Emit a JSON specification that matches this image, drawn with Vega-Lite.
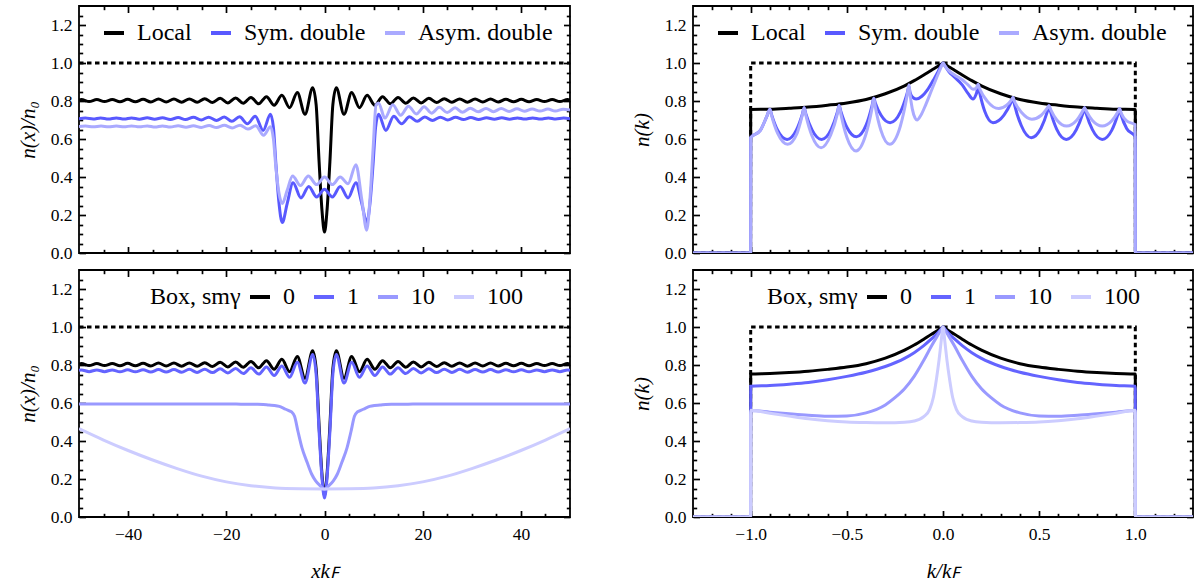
{
"$schema":"https://vega.github.io/schema/vega-lite/v6.json",
"padding":{"left":16,"top":4,"right":0,"bottom":0},
"config":{
 "view":{"stroke":"black","strokeWidth":1.8},
 "font":"Liberation Serif",
 "axis":{"tickColor":"black","tickWidth":1.7,"labelFont":"Liberation Serif","labelFontSize":17.5,"labelColor":"black","titleFont":"Liberation Serif","titleFontSize":21,"titleFontWeight":"normal","titleColor":"black","grid":false,"labelOverlap":false,"labelFlush":false},
 "legend":{"orient":"none","direction":"horizontal","symbolType":"stroke","symbolStrokeWidth":4,"symbolSize":400,"labelFont":"Liberation Serif","labelFontSize":24,"labelColor":"black","labelOffset":11,"columnPadding":11,"titleFont":"Liberation Serif","titleFontSize":24,"titleFontWeight":"normal","titleColor":"black","titleOrient":"left","titlePadding":7,"legendY":15,"symbolOpacity":1}
},
"datasets":{
"dashL":[{"x":-50,"y":1},{"x":50,"y":1}],
"dashR":[{"x":-1.3,"y":0},{"x":-1.0005,"y":0},{"x":-1,"y":1},{"x":1,"y":1},{"x":1.0005,"y":0},{"x":1.3,"y":0}],
"tl":[
{"s":"Local","x":-50,"y":0.805},{"s":"Local","x":-49.51,"y":0.808},{"s":"Local","x":-47.94,"y":0.797},{"s":"Local","x":-46.37,"y":0.808},{"s":"Local","x":-44.8,"y":0.797},{"s":"Local","x":-43.23,"y":0.808},{"s":"Local","x":-41.66,"y":0.796},{"s":"Local","x":-40.09,"y":0.809},{"s":"Local","x":-38.52,"y":0.796},{"s":"Local","x":-36.95,"y":0.809},{"s":"Local","x":-35.38,"y":0.795},{"s":"Local","x":-33.81,"y":0.81},{"s":"Local","x":-32.24,"y":0.795},{"s":"Local","x":-30.67,"y":0.81},{"s":"Local","x":-29.1,"y":0.794},{"s":"Local","x":-27.53,"y":0.811},{"s":"Local","x":-25.96,"y":0.793},{"s":"Local","x":-24.39,"y":0.812},{"s":"Local","x":-22.82,"y":0.792},{"s":"Local","x":-21.25,"y":0.814},{"s":"Local","x":-19.68,"y":0.79},{"s":"Local","x":-18.11,"y":0.816},{"s":"Local","x":-16.54,"y":0.788},{"s":"Local","x":-14.97,"y":0.819},{"s":"Local","x":-13.4,"y":0.785},{"s":"Local","x":-11.82,"y":0.823},{"s":"Local","x":-10.25,"y":0.778},{"s":"Local","x":-8.68,"y":0.83},{"s":"Local","x":-7.11,"y":0.765},{"s":"Local","x":-5.54,"y":0.845},{"s":"Local","x":-3.97,"y":0.73},{"s":"Local","x":-2.4,"y":0.87},{"s":"Local","x":-1.7,"y":0.78},{"s":"Local","x":-1.1,"y":0.48},{"s":"Local","x":-0.5,"y":0.22},{"s":"Local","x":0,"y":0.11},
{"s":"Local","x":0.5,"y":0.22},{"s":"Local","x":1.1,"y":0.48},{"s":"Local","x":1.7,"y":0.78},{"s":"Local","x":2.4,"y":0.87},{"s":"Local","x":3.97,"y":0.73},{"s":"Local","x":5.54,"y":0.845},{"s":"Local","x":7.11,"y":0.765},{"s":"Local","x":8.68,"y":0.83},{"s":"Local","x":10.25,"y":0.778},{"s":"Local","x":11.82,"y":0.823},{"s":"Local","x":13.4,"y":0.785},{"s":"Local","x":14.97,"y":0.819},{"s":"Local","x":16.54,"y":0.788},{"s":"Local","x":18.11,"y":0.816},{"s":"Local","x":19.68,"y":0.79},{"s":"Local","x":21.25,"y":0.814},{"s":"Local","x":22.82,"y":0.792},{"s":"Local","x":24.39,"y":0.812},{"s":"Local","x":25.96,"y":0.793},{"s":"Local","x":27.53,"y":0.811},{"s":"Local","x":29.1,"y":0.794},{"s":"Local","x":30.67,"y":0.81},{"s":"Local","x":32.24,"y":0.795},{"s":"Local","x":33.81,"y":0.81},{"s":"Local","x":35.38,"y":0.795},{"s":"Local","x":36.95,"y":0.809},{"s":"Local","x":38.52,"y":0.796},{"s":"Local","x":40.09,"y":0.809},{"s":"Local","x":41.66,"y":0.796},{"s":"Local","x":43.23,"y":0.808},{"s":"Local","x":44.8,"y":0.797},{"s":"Local","x":46.37,"y":0.808},{"s":"Local","x":47.94,"y":0.797},{"s":"Local","x":49.51,"y":0.808},{"s":"Local","x":50,"y":0.805},
{"s":"Sym. double","x":-50,"y":0.707},{"s":"Sym. double","x":-48.7,"y":0.71},{"s":"Sym. double","x":-47.1,"y":0.705},{"s":"Sym. double","x":-45.6,"y":0.711},{"s":"Sym. double","x":-44,"y":0.705},{"s":"Sym. double","x":-42.4,"y":0.711},{"s":"Sym. double","x":-40.8,"y":0.705},{"s":"Sym. double","x":-39.3,"y":0.711},{"s":"Sym. double","x":-37.7,"y":0.704},{"s":"Sym. double","x":-36.1,"y":0.712},{"s":"Sym. double","x":-34.6,"y":0.704},{"s":"Sym. double","x":-33,"y":0.712},{"s":"Sym. double","x":-31.4,"y":0.703},{"s":"Sym. double","x":-29.8,"y":0.713},{"s":"Sym. double","x":-28.3,"y":0.702},{"s":"Sym. double","x":-26.7,"y":0.714},{"s":"Sym. double","x":-25.1,"y":0.7},{"s":"Sym. double","x":-23.6,"y":0.715},{"s":"Sym. double","x":-22,"y":0.698},{"s":"Sym. double","x":-20.4,"y":0.716},{"s":"Sym. double","x":-18.9,"y":0.693},{"s":"Sym. double","x":-17.3,"y":0.717},{"s":"Sym. double","x":-15.7,"y":0.68},{"s":"Sym. double","x":-14.1,"y":0.72},{"s":"Sym. double","x":-12.5,"y":0.645},{"s":"Sym. double","x":-11,"y":0.73},{"s":"Sym. double","x":-10.4,"y":0.66},{"s":"Sym. double","x":-9.9,"y":0.47},{"s":"Sym. double","x":-9.3,"y":0.27},{"s":"Sym. double","x":-8.6,"y":0.16},{"s":"Sym. double","x":-7.6,"y":0.26},{"s":"Sym. double","x":-6.4,"y":0.37},{"s":"Sym. double","x":-4.8,"y":0.29},{"s":"Sym. double","x":-3.2,"y":0.35},{"s":"Sym. double","x":-1.6,"y":0.295},{"s":"Sym. double","x":0,"y":0.335},
{"s":"Sym. double","x":1.6,"y":0.295},{"s":"Sym. double","x":3.2,"y":0.35},{"s":"Sym. double","x":4.8,"y":0.29},{"s":"Sym. double","x":6.4,"y":0.37},{"s":"Sym. double","x":7.6,"y":0.26},{"s":"Sym. double","x":8.6,"y":0.16},{"s":"Sym. double","x":9.3,"y":0.27},{"s":"Sym. double","x":9.9,"y":0.47},{"s":"Sym. double","x":10.4,"y":0.66},{"s":"Sym. double","x":11,"y":0.73},{"s":"Sym. double","x":12.5,"y":0.645},{"s":"Sym. double","x":14.1,"y":0.72},{"s":"Sym. double","x":15.7,"y":0.68},{"s":"Sym. double","x":17.3,"y":0.717},{"s":"Sym. double","x":18.9,"y":0.693},{"s":"Sym. double","x":20.4,"y":0.716},{"s":"Sym. double","x":22,"y":0.698},{"s":"Sym. double","x":23.6,"y":0.715},{"s":"Sym. double","x":25.1,"y":0.7},{"s":"Sym. double","x":26.7,"y":0.714},{"s":"Sym. double","x":28.3,"y":0.702},{"s":"Sym. double","x":29.8,"y":0.713},{"s":"Sym. double","x":31.4,"y":0.703},{"s":"Sym. double","x":33,"y":0.712},{"s":"Sym. double","x":34.6,"y":0.704},{"s":"Sym. double","x":36.1,"y":0.712},{"s":"Sym. double","x":37.7,"y":0.704},{"s":"Sym. double","x":39.3,"y":0.711},{"s":"Sym. double","x":40.8,"y":0.705},{"s":"Sym. double","x":42.4,"y":0.711},{"s":"Sym. double","x":44,"y":0.705},{"s":"Sym. double","x":45.6,"y":0.711},{"s":"Sym. double","x":47.1,"y":0.705},{"s":"Sym. double","x":48.7,"y":0.71},{"s":"Sym. double","x":50,"y":0.707},
{"s":"Asym. double","x":-50,"y":0.666},{"s":"Asym. double","x":-48.7,"y":0.668},{"s":"Asym. double","x":-47.1,"y":0.664},{"s":"Asym. double","x":-45.5,"y":0.668},{"s":"Asym. double","x":-44,"y":0.664},{"s":"Asym. double","x":-42.4,"y":0.668},{"s":"Asym. double","x":-40.8,"y":0.664},{"s":"Asym. double","x":-39.3,"y":0.669},{"s":"Asym. double","x":-37.7,"y":0.664},{"s":"Asym. double","x":-36.1,"y":0.669},{"s":"Asym. double","x":-34.5,"y":0.663},{"s":"Asym. double","x":-33,"y":0.669},{"s":"Asym. double","x":-31.4,"y":0.663},{"s":"Asym. double","x":-29.8,"y":0.67},{"s":"Asym. double","x":-28.2,"y":0.662},{"s":"Asym. double","x":-26.7,"y":0.67},{"s":"Asym. double","x":-25.1,"y":0.661},{"s":"Asym. double","x":-23.5,"y":0.671},{"s":"Asym. double","x":-22,"y":0.66},{"s":"Asym. double","x":-20.4,"y":0.672},{"s":"Asym. double","x":-18.8,"y":0.658},{"s":"Asym. double","x":-17.2,"y":0.673},{"s":"Asym. double","x":-15.6,"y":0.652},{"s":"Asym. double","x":-14,"y":0.67},{"s":"Asym. double","x":-12.4,"y":0.62},{"s":"Asym. double","x":-11,"y":0.665},{"s":"Asym. double","x":-10.4,"y":0.6},{"s":"Asym. double","x":-9.9,"y":0.45},{"s":"Asym. double","x":-9.3,"y":0.32},{"s":"Asym. double","x":-8.6,"y":0.26},{"s":"Asym. double","x":-7.6,"y":0.33},{"s":"Asym. double","x":-6.5,"y":0.405},{"s":"Asym. double","x":-4.9,"y":0.355},{"s":"Asym. double","x":-3.3,"y":0.405},{"s":"Asym. double","x":-1.6,"y":0.36},{"s":"Asym. double","x":0,"y":0.4},{"s":"Asym. double","x":1.6,"y":0.36},{"s":"Asym. double","x":3.2,"y":0.4},{"s":"Asym. double","x":4.8,"y":0.365},{"s":"Asym. double","x":6.4,"y":0.465},{"s":"Asym. double","x":7.6,"y":0.28},{"s":"Asym. double","x":8.6,"y":0.12},{"s":"Asym. double","x":9.3,"y":0.3},{"s":"Asym. double","x":9.9,"y":0.55},{"s":"Asym. double","x":10.5,"y":0.78},{"s":"Asym. double","x":11,"y":0.79},{"s":"Asym. double","x":12.3,"y":0.71},{"s":"Asym. double","x":13.9,"y":0.78},{"s":"Asym. double","x":15.5,"y":0.725},{"s":"Asym. double","x":17.1,"y":0.773},{"s":"Asym. double","x":18.7,"y":0.732},{"s":"Asym. double","x":20.3,"y":0.77},{"s":"Asym. double","x":21.8,"y":0.736},{"s":"Asym. double","x":23.4,"y":0.767},{"s":"Asym. double","x":25,"y":0.739},{"s":"Asym. double","x":26.6,"y":0.764},{"s":"Asym. double","x":28.1,"y":0.741},{"s":"Asym. double","x":29.7,"y":0.762},{"s":"Asym. double","x":31.3,"y":0.743},{"s":"Asym. double","x":32.9,"y":0.761},{"s":"Asym. double","x":34.4,"y":0.744},{"s":"Asym. double","x":36,"y":0.76},{"s":"Asym. double","x":37.6,"y":0.745},{"s":"Asym. double","x":39.2,"y":0.759},{"s":"Asym. double","x":40.7,"y":0.746},{"s":"Asym. double","x":42.3,"y":0.758},{"s":"Asym. double","x":43.9,"y":0.747},{"s":"Asym. double","x":45.5,"y":0.758},{"s":"Asym. double","x":47,"y":0.747},{"s":"Asym. double","x":48.6,"y":0.757},{"s":"Asym. double","x":50,"y":0.752}
],
"bl":[
{"s":"0","x":-50,"y":0.805},{"s":"0","x":-49.51,"y":0.808},{"s":"0","x":-47.94,"y":0.797},{"s":"0","x":-46.37,"y":0.808},{"s":"0","x":-44.8,"y":0.797},{"s":"0","x":-43.23,"y":0.808},{"s":"0","x":-41.66,"y":0.796},{"s":"0","x":-40.09,"y":0.809},{"s":"0","x":-38.52,"y":0.796},{"s":"0","x":-36.95,"y":0.809},{"s":"0","x":-35.38,"y":0.795},{"s":"0","x":-33.81,"y":0.81},{"s":"0","x":-32.24,"y":0.795},{"s":"0","x":-30.67,"y":0.81},{"s":"0","x":-29.1,"y":0.794},{"s":"0","x":-27.53,"y":0.811},{"s":"0","x":-25.96,"y":0.793},{"s":"0","x":-24.39,"y":0.812},{"s":"0","x":-22.82,"y":0.792},{"s":"0","x":-21.25,"y":0.814},{"s":"0","x":-19.68,"y":0.79},{"s":"0","x":-18.11,"y":0.816},{"s":"0","x":-16.54,"y":0.788},{"s":"0","x":-14.97,"y":0.819},{"s":"0","x":-13.4,"y":0.785},{"s":"0","x":-11.82,"y":0.823},{"s":"0","x":-10.25,"y":0.778},{"s":"0","x":-8.68,"y":0.83},{"s":"0","x":-7.11,"y":0.765},{"s":"0","x":-5.54,"y":0.845},{"s":"0","x":-3.97,"y":0.73},{"s":"0","x":-2.4,"y":0.875},{"s":"0","x":-1.7,"y":0.78},{"s":"0","x":-1.1,"y":0.48},{"s":"0","x":-0.5,"y":0.22},{"s":"0","x":0,"y":0.115},
{"s":"0","x":0.5,"y":0.22},{"s":"0","x":1.1,"y":0.48},{"s":"0","x":1.7,"y":0.78},{"s":"0","x":2.4,"y":0.875},{"s":"0","x":3.97,"y":0.73},{"s":"0","x":5.54,"y":0.845},{"s":"0","x":7.11,"y":0.765},{"s":"0","x":8.68,"y":0.83},{"s":"0","x":10.25,"y":0.778},{"s":"0","x":11.82,"y":0.823},{"s":"0","x":13.4,"y":0.785},{"s":"0","x":14.97,"y":0.819},{"s":"0","x":16.54,"y":0.788},{"s":"0","x":18.11,"y":0.816},{"s":"0","x":19.68,"y":0.79},{"s":"0","x":21.25,"y":0.814},{"s":"0","x":22.82,"y":0.792},{"s":"0","x":24.39,"y":0.812},{"s":"0","x":25.96,"y":0.793},{"s":"0","x":27.53,"y":0.811},{"s":"0","x":29.1,"y":0.794},{"s":"0","x":30.67,"y":0.81},{"s":"0","x":32.24,"y":0.795},{"s":"0","x":33.81,"y":0.81},{"s":"0","x":35.38,"y":0.795},{"s":"0","x":36.95,"y":0.809},{"s":"0","x":38.52,"y":0.796},{"s":"0","x":40.09,"y":0.809},{"s":"0","x":41.66,"y":0.796},{"s":"0","x":43.23,"y":0.808},{"s":"0","x":44.8,"y":0.797},{"s":"0","x":46.37,"y":0.808},{"s":"0","x":47.94,"y":0.797},{"s":"0","x":49.51,"y":0.808},{"s":"0","x":50,"y":0.805},
{"s":"1","x":-50,"y":0.772},{"s":"1","x":-49.51,"y":0.774},{"s":"1","x":-47.94,"y":0.765},{"s":"1","x":-46.37,"y":0.774},{"s":"1","x":-44.8,"y":0.765},{"s":"1","x":-43.23,"y":0.774},{"s":"1","x":-41.66,"y":0.764},{"s":"1","x":-40.09,"y":0.775},{"s":"1","x":-38.52,"y":0.764},{"s":"1","x":-36.95,"y":0.775},{"s":"1","x":-35.38,"y":0.763},{"s":"1","x":-33.81,"y":0.776},{"s":"1","x":-32.24,"y":0.763},{"s":"1","x":-30.67,"y":0.776},{"s":"1","x":-29.1,"y":0.762},{"s":"1","x":-27.53,"y":0.777},{"s":"1","x":-25.96,"y":0.761},{"s":"1","x":-24.39,"y":0.778},{"s":"1","x":-22.82,"y":0.76},{"s":"1","x":-21.25,"y":0.78},{"s":"1","x":-19.68,"y":0.758},{"s":"1","x":-18.11,"y":0.782},{"s":"1","x":-16.54,"y":0.755},{"s":"1","x":-14.97,"y":0.785},{"s":"1","x":-13.4,"y":0.752},{"s":"1","x":-11.82,"y":0.79},{"s":"1","x":-10.25,"y":0.745},{"s":"1","x":-8.68,"y":0.795},{"s":"1","x":-7.11,"y":0.735},{"s":"1","x":-5.54,"y":0.815},{"s":"1","x":-3.97,"y":0.705},{"s":"1","x":-2.4,"y":0.855},{"s":"1","x":-1.7,"y":0.75},{"s":"1","x":-1.1,"y":0.45},{"s":"1","x":-0.5,"y":0.2},{"s":"1","x":0,"y":0.1},
{"s":"1","x":0.5,"y":0.2},{"s":"1","x":1.1,"y":0.45},{"s":"1","x":1.7,"y":0.75},{"s":"1","x":2.4,"y":0.855},{"s":"1","x":3.97,"y":0.705},{"s":"1","x":5.54,"y":0.815},{"s":"1","x":7.11,"y":0.735},{"s":"1","x":8.68,"y":0.795},{"s":"1","x":10.25,"y":0.745},{"s":"1","x":11.82,"y":0.79},{"s":"1","x":13.4,"y":0.752},{"s":"1","x":14.97,"y":0.785},{"s":"1","x":16.54,"y":0.755},{"s":"1","x":18.11,"y":0.782},{"s":"1","x":19.68,"y":0.758},{"s":"1","x":21.25,"y":0.78},{"s":"1","x":22.82,"y":0.76},{"s":"1","x":24.39,"y":0.778},{"s":"1","x":25.96,"y":0.761},{"s":"1","x":27.53,"y":0.777},{"s":"1","x":29.1,"y":0.762},{"s":"1","x":30.67,"y":0.776},{"s":"1","x":32.24,"y":0.763},{"s":"1","x":33.81,"y":0.776},{"s":"1","x":35.38,"y":0.763},{"s":"1","x":36.95,"y":0.775},{"s":"1","x":38.52,"y":0.764},{"s":"1","x":40.09,"y":0.775},{"s":"1","x":41.66,"y":0.764},{"s":"1","x":43.23,"y":0.774},{"s":"1","x":44.8,"y":0.765},{"s":"1","x":46.37,"y":0.774},{"s":"1","x":47.94,"y":0.765},{"s":"1","x":49.51,"y":0.774},{"s":"1","x":50,"y":0.772},
{"s":"10","x":-50,"y":0.595},{"s":"10","x":-40,"y":0.595},{"s":"10","x":-30,"y":0.595},{"s":"10","x":-20,"y":0.595},{"s":"10","x":-17,"y":0.594},{"s":"10","x":-14,"y":0.593},{"s":"10","x":-12.5,"y":0.592},{"s":"10","x":-11.3,"y":0.589},{"s":"10","x":-10.2,"y":0.587},{"s":"10","x":-9.2,"y":0.582},{"s":"10","x":-8.3,"y":0.572},{"s":"10","x":-7.5,"y":0.562},{"s":"10","x":-6.7,"y":0.553},{"s":"10","x":-6.1,"y":0.53},{"s":"10","x":-5.4,"y":0.45},{"s":"10","x":-4.6,"y":0.365},{"s":"10","x":-3.5,"y":0.285},{"s":"10","x":-2.6,"y":0.225},{"s":"10","x":-1.8,"y":0.19},{"s":"10","x":-0.9,"y":0.165},{"s":"10","x":0,"y":0.145},{"s":"10","x":0.9,"y":0.165},{"s":"10","x":1.8,"y":0.19},{"s":"10","x":2.6,"y":0.225},{"s":"10","x":3.5,"y":0.285},{"s":"10","x":4.6,"y":0.365},{"s":"10","x":5.4,"y":0.45},{"s":"10","x":6.1,"y":0.53},{"s":"10","x":6.7,"y":0.553},{"s":"10","x":7.5,"y":0.562},{"s":"10","x":8.3,"y":0.572},{"s":"10","x":9.2,"y":0.582},{"s":"10","x":10.2,"y":0.587},{"s":"10","x":11.3,"y":0.589},{"s":"10","x":12.5,"y":0.592},{"s":"10","x":14,"y":0.593},{"s":"10","x":17,"y":0.594},{"s":"10","x":20,"y":0.595},{"s":"10","x":30,"y":0.595},{"s":"10","x":40,"y":0.595},{"s":"10","x":50,"y":0.595},
{"s":"100","x":-50,"y":0.465},{"s":"100","x":-45,"y":0.405},{"s":"100","x":-40,"y":0.35},{"s":"100","x":-35,"y":0.3},{"s":"100","x":-30,"y":0.255},{"s":"100","x":-25,"y":0.215},{"s":"100","x":-20,"y":0.185},{"s":"100","x":-15,"y":0.165},{"s":"100","x":-10,"y":0.153},{"s":"100","x":-5,"y":0.149},{"s":"100","x":0,"y":0.148},{"s":"100","x":5,"y":0.149},{"s":"100","x":10,"y":0.153},{"s":"100","x":15,"y":0.165},{"s":"100","x":20,"y":0.185},{"s":"100","x":25,"y":0.215},{"s":"100","x":30,"y":0.255},{"s":"100","x":35,"y":0.3},{"s":"100","x":40,"y":0.35},{"s":"100","x":45,"y":0.405},{"s":"100","x":50,"y":0.465}
],
"tr":[
{"s":"Local","x":-1.3,"y":0},{"s":"Local","x":-1.0005,"y":0},{"s":"Local","x":-1,"y":0.755},{"s":"Local","x":-0.9,"y":0.757},{"s":"Local","x":-0.8,"y":0.762},{"s":"Local","x":-0.7,"y":0.768},{"s":"Local","x":-0.6,"y":0.778},{"s":"Local","x":-0.5,"y":0.79},{"s":"Local","x":-0.4,"y":0.808},{"s":"Local","x":-0.3,"y":0.838},{"s":"Local","x":-0.2,"y":0.88},{"s":"Local","x":-0.15,"y":0.907},{"s":"Local","x":-0.1,"y":0.937},{"s":"Local","x":-0.06,"y":0.962},{"s":"Local","x":-0.03,"y":0.98},{"s":"Local","x":-0.01,"y":0.993},{"s":"Local","x":0,"y":1},{"s":"Local","x":0.01,"y":0.993},{"s":"Local","x":0.03,"y":0.98},{"s":"Local","x":0.06,"y":0.962},{"s":"Local","x":0.1,"y":0.937},{"s":"Local","x":0.15,"y":0.907},{"s":"Local","x":0.2,"y":0.88},{"s":"Local","x":0.3,"y":0.838},{"s":"Local","x":0.4,"y":0.808},{"s":"Local","x":0.5,"y":0.79},{"s":"Local","x":0.6,"y":0.778},{"s":"Local","x":0.7,"y":0.768},{"s":"Local","x":0.8,"y":0.762},{"s":"Local","x":0.9,"y":0.757},{"s":"Local","x":1,"y":0.755},{"s":"Local","x":1.0005,"y":0},{"s":"Local","x":1.3,"y":0},
{"s":"Sym. double","x":-1.3,"y":0},{"s":"Sym. double","x":-1.0005,"y":0},{"s":"Sym. double","x":-1,"y":0.607},{"s":"Sym. double","x":-0.95,"y":0.645},{"s":"Sym. double","x":-0.915,"y":0.722},{"s":"Sym. double","x":-0.9,"y":0.757},{"s":"Sym. double","x":-0.891,"y":0.727},{"s":"Sym. double","x":-0.86,"y":0.646},{"s":"Sym. double","x":-0.811,"y":0.598},{"s":"Sym. double","x":-0.762,"y":0.648},{"s":"Sym. double","x":-0.731,"y":0.732},{"s":"Sym. double","x":-0.722,"y":0.764},{"s":"Sym. double","x":-0.713,"y":0.732},{"s":"Sym. double","x":-0.681,"y":0.648},{"s":"Sym. double","x":-0.631,"y":0.598},{"s":"Sym. double","x":-0.581,"y":0.652},{"s":"Sym. double","x":-0.549,"y":0.742},{"s":"Sym. double","x":-0.54,"y":0.776},{"s":"Sym. double","x":-0.531,"y":0.745},{"s":"Sym. double","x":-0.5,"y":0.662},{"s":"Sym. double","x":-0.45,"y":0.612},{"s":"Sym. double","x":-0.4,"y":0.673},{"s":"Sym. double","x":-0.369,"y":0.776},{"s":"Sym. double","x":-0.36,"y":0.815},{"s":"Sym. double","x":-0.352,"y":0.79},{"s":"Sym. double","x":-0.322,"y":0.725},{"s":"Sym. double","x":-0.275,"y":0.686},{"s":"Sym. double","x":-0.221,"y":0.743},{"s":"Sym. double","x":-0.187,"y":0.839},{"s":"Sym. double","x":-0.177,"y":0.875},{"s":"Sym. double","x":-0.172,"y":0.848},{"s":"Sym. double","x":-0.16,"y":0.822},{"s":"Sym. double","x":-0.14,"y":0.81},{"s":"Sym. double","x":-0.11,"y":0.825},{"s":"Sym. double","x":-0.08,"y":0.86},{"s":"Sym. double","x":-0.05,"y":0.91},{"s":"Sym. double","x":-0.025,"y":0.955},{"s":"Sym. double","x":-0.01,"y":0.985},{"s":"Sym. double","x":0,"y":1},{"s":"Sym. double","x":0.01,"y":0.985},{"s":"Sym. double","x":0.03,"y":0.955},{"s":"Sym. double","x":0.06,"y":0.925},{"s":"Sym. double","x":0.1,"y":0.885},{"s":"Sym. double","x":0.13,"y":0.84},{"s":"Sym. double","x":0.156,"y":0.81},{"s":"Sym. double","x":0.17,"y":0.83},{"s":"Sym. double","x":0.177,"y":0.852},{"s":"Sym. double","x":0.182,"y":0.885},{"s":"Sym. double","x":0.19,"y":0.847},{"s":"Sym. double","x":0.217,"y":0.746},{"s":"Sym. double","x":0.26,"y":0.686},{"s":"Sym. double","x":0.317,"y":0.726},{"s":"Sym. double","x":0.354,"y":0.793},{"s":"Sym. double","x":0.364,"y":0.818},{"s":"Sym. double","x":0.3725,"y":0.778},{"s":"Sym. double","x":0.407,"y":0.671},{"s":"Sym. double","x":0.459,"y":0.607},{"s":"Sym. double","x":0.51,"y":0.658},{"s":"Sym. double","x":0.542,"y":0.743},{"s":"Sym. double","x":0.551,"y":0.775},{"s":"Sym. double","x":0.56,"y":0.741},{"s":"Sym. double","x":0.591,"y":0.652},{"s":"Sym. double","x":0.641,"y":0.598},{"s":"Sym. double","x":0.693,"y":0.649},{"s":"Sym. double","x":0.7265,"y":0.733},{"s":"Sym. double","x":0.736,"y":0.765},{"s":"Sym. double","x":0.745,"y":0.733},{"s":"Sym. double","x":0.777,"y":0.649},{"s":"Sym. double","x":0.828,"y":0.598},{"s":"Sym. double","x":0.878,"y":0.647},{"s":"Sym. double","x":0.909,"y":0.729},{"s":"Sym. double","x":0.918,"y":0.76},{"s":"Sym. double","x":0.927,"y":0.725},{"s":"Sym. double","x":0.955,"y":0.655},{"s":"Sym. double","x":1,"y":0.612},{"s":"Sym. double","x":1.0005,"y":0},{"s":"Sym. double","x":1.3,"y":0},
{"s":"Asym. double","x":-1.3,"y":0},{"s":"Asym. double","x":-1.0005,"y":0},{"s":"Asym. double","x":-1,"y":0.607},{"s":"Asym. double","x":-0.95,"y":0.645},{"s":"Asym. double","x":-0.915,"y":0.722},{"s":"Asym. double","x":-0.9,"y":0.757},{"s":"Asym. double","x":-0.891,"y":0.722},{"s":"Asym. double","x":-0.859,"y":0.628},{"s":"Asym. double","x":-0.808,"y":0.572},{"s":"Asym. double","x":-0.759,"y":0.63},{"s":"Asym. double","x":-0.731,"y":0.728},{"s":"Asym. double","x":-0.722,"y":0.764},{"s":"Asym. double","x":-0.713,"y":0.724},{"s":"Asym. double","x":-0.682,"y":0.618},{"s":"Asym. double","x":-0.634,"y":0.554},{"s":"Asym. double","x":-0.584,"y":0.621},{"s":"Asym. double","x":-0.549,"y":0.734},{"s":"Asym. double","x":-0.54,"y":0.776},{"s":"Asym. double","x":-0.531,"y":0.731},{"s":"Asym. double","x":-0.5,"y":0.609},{"s":"Asym. double","x":-0.452,"y":0.537},{"s":"Asym. double","x":-0.402,"y":0.621},{"s":"Asym. double","x":-0.369,"y":0.762},{"s":"Asym. double","x":-0.36,"y":0.815},{"s":"Asym. double","x":-0.352,"y":0.769},{"s":"Asym. double","x":-0.323,"y":0.646},{"s":"Asym. double","x":-0.277,"y":0.572},{"s":"Asym. double","x":-0.222,"y":0.667},{"s":"Asym. double","x":-0.187,"y":0.826},{"s":"Asym. double","x":-0.177,"y":0.885},{"s":"Asym. double","x":-0.172,"y":0.84},{"s":"Asym. double","x":-0.16,"y":0.76},{"s":"Asym. double","x":-0.145,"y":0.71},{"s":"Asym. double","x":-0.135,"y":0.7},{"s":"Asym. double","x":-0.115,"y":0.725},{"s":"Asym. double","x":-0.09,"y":0.78},{"s":"Asym. double","x":-0.06,"y":0.855},{"s":"Asym. double","x":-0.03,"y":0.93},{"s":"Asym. double","x":-0.01,"y":0.978},{"s":"Asym. double","x":0,"y":1},{"s":"Asym. double","x":0.01,"y":0.985},{"s":"Asym. double","x":0.03,"y":0.96},{"s":"Asym. double","x":0.06,"y":0.937},{"s":"Asym. double","x":0.1,"y":0.912},{"s":"Asym. double","x":0.13,"y":0.885},{"s":"Asym. double","x":0.156,"y":0.862},{"s":"Asym. double","x":0.172,"y":0.866},{"s":"Asym. double","x":0.182,"y":0.888},{"s":"Asym. double","x":0.192,"y":0.861},{"s":"Asym. double","x":0.231,"y":0.798},{"s":"Asym. double","x":0.29,"y":0.76},{"s":"Asym. double","x":0.331,"y":0.778},{"s":"Asym. double","x":0.357,"y":0.807},{"s":"Asym. double","x":0.364,"y":0.818},{"s":"Asym. double","x":0.3725,"y":0.796},{"s":"Asym. double","x":0.41,"y":0.738},{"s":"Asym. double","x":0.462,"y":0.704},{"s":"Asym. double","x":0.511,"y":0.725},{"s":"Asym. double","x":0.542,"y":0.762},{"s":"Asym. double","x":0.551,"y":0.775},{"s":"Asym. double","x":0.56,"y":0.755},{"s":"Asym. double","x":0.592,"y":0.7},{"s":"Asym. double","x":0.643,"y":0.668},{"s":"Asym. double","x":0.694,"y":0.697},{"s":"Asym. double","x":0.7265,"y":0.747},{"s":"Asym. double","x":0.736,"y":0.765},{"s":"Asym. double","x":0.745,"y":0.747},{"s":"Asym. double","x":0.777,"y":0.697},{"s":"Asym. double","x":0.828,"y":0.668},{"s":"Asym. double","x":0.878,"y":0.696},{"s":"Asym. double","x":0.909,"y":0.742},{"s":"Asym. double","x":0.918,"y":0.76},{"s":"Asym. double","x":0.927,"y":0.735},{"s":"Asym. double","x":0.955,"y":0.695},{"s":"Asym. double","x":1,"y":0.675},{"s":"Asym. double","x":1.0005,"y":0},{"s":"Asym. double","x":1.3,"y":0}
],
"br":[
{"s":"0","x":-1.3,"y":0},{"s":"0","x":-1.0005,"y":0},{"s":"0","x":-1,"y":0.752},{"s":"0","x":-0.9,"y":0.755},{"s":"0","x":-0.8,"y":0.76},{"s":"0","x":-0.7,"y":0.767},{"s":"0","x":-0.6,"y":0.777},{"s":"0","x":-0.5,"y":0.789},{"s":"0","x":-0.4,"y":0.807},{"s":"0","x":-0.3,"y":0.836},{"s":"0","x":-0.2,"y":0.878},{"s":"0","x":-0.15,"y":0.905},{"s":"0","x":-0.1,"y":0.936},{"s":"0","x":-0.06,"y":0.962},{"s":"0","x":-0.03,"y":0.98},{"s":"0","x":-0.01,"y":0.993},{"s":"0","x":0,"y":1},{"s":"0","x":0.01,"y":0.993},{"s":"0","x":0.03,"y":0.98},{"s":"0","x":0.06,"y":0.962},{"s":"0","x":0.1,"y":0.936},{"s":"0","x":0.15,"y":0.905},{"s":"0","x":0.2,"y":0.878},{"s":"0","x":0.3,"y":0.836},{"s":"0","x":0.4,"y":0.807},{"s":"0","x":0.5,"y":0.789},{"s":"0","x":0.6,"y":0.777},{"s":"0","x":0.7,"y":0.767},{"s":"0","x":0.8,"y":0.76},{"s":"0","x":0.9,"y":0.755},{"s":"0","x":1,"y":0.752},{"s":"0","x":1.0005,"y":0},{"s":"0","x":1.3,"y":0},
{"s":"1","x":-1.3,"y":0},{"s":"1","x":-1.0005,"y":0},{"s":"1","x":-1,"y":0.688},{"s":"1","x":-0.9,"y":0.692},{"s":"1","x":-0.8,"y":0.699},{"s":"1","x":-0.7,"y":0.708},{"s":"1","x":-0.6,"y":0.722},{"s":"1","x":-0.5,"y":0.74},{"s":"1","x":-0.4,"y":0.762},{"s":"1","x":-0.3,"y":0.792},{"s":"1","x":-0.2,"y":0.835},{"s":"1","x":-0.15,"y":0.865},{"s":"1","x":-0.1,"y":0.902},{"s":"1","x":-0.06,"y":0.937},{"s":"1","x":-0.03,"y":0.966},{"s":"1","x":-0.01,"y":0.988},{"s":"1","x":0,"y":1},{"s":"1","x":0.01,"y":0.988},{"s":"1","x":0.03,"y":0.966},{"s":"1","x":0.06,"y":0.937},{"s":"1","x":0.1,"y":0.902},{"s":"1","x":0.15,"y":0.865},{"s":"1","x":0.2,"y":0.835},{"s":"1","x":0.3,"y":0.792},{"s":"1","x":0.4,"y":0.762},{"s":"1","x":0.5,"y":0.74},{"s":"1","x":0.6,"y":0.722},{"s":"1","x":0.7,"y":0.708},{"s":"1","x":0.8,"y":0.699},{"s":"1","x":0.9,"y":0.692},{"s":"1","x":1,"y":0.688},{"s":"1","x":1.0005,"y":0},{"s":"1","x":1.3,"y":0},
{"s":"10","x":-1.3,"y":0},{"s":"10","x":-1.0005,"y":0},{"s":"10","x":-1,"y":0.56},{"s":"10","x":-0.9,"y":0.552},{"s":"10","x":-0.8,"y":0.543},{"s":"10","x":-0.7,"y":0.535},{"s":"10","x":-0.6,"y":0.53},{"s":"10","x":-0.5,"y":0.532},{"s":"10","x":-0.4,"y":0.548},{"s":"10","x":-0.3,"y":0.59},{"s":"10","x":-0.25,"y":0.628},{"s":"10","x":-0.2,"y":0.675},{"s":"10","x":-0.15,"y":0.74},{"s":"10","x":-0.1,"y":0.825},{"s":"10","x":-0.06,"y":0.9},{"s":"10","x":-0.03,"y":0.952},{"s":"10","x":-0.01,"y":0.985},{"s":"10","x":0,"y":1},{"s":"10","x":0.01,"y":0.985},{"s":"10","x":0.03,"y":0.952},{"s":"10","x":0.06,"y":0.9},{"s":"10","x":0.1,"y":0.825},{"s":"10","x":0.15,"y":0.74},{"s":"10","x":0.2,"y":0.675},{"s":"10","x":0.25,"y":0.628},{"s":"10","x":0.3,"y":0.59},{"s":"10","x":0.4,"y":0.548},{"s":"10","x":0.5,"y":0.532},{"s":"10","x":0.6,"y":0.53},{"s":"10","x":0.7,"y":0.535},{"s":"10","x":0.8,"y":0.543},{"s":"10","x":0.9,"y":0.552},{"s":"10","x":1,"y":0.56},{"s":"10","x":1.0005,"y":0},{"s":"10","x":1.3,"y":0},
{"s":"100","x":-1.3,"y":0},{"s":"100","x":-1.0005,"y":0},{"s":"100","x":-1,"y":0.562},{"s":"100","x":-0.9,"y":0.546},{"s":"100","x":-0.8,"y":0.531},{"s":"100","x":-0.7,"y":0.517},{"s":"100","x":-0.6,"y":0.507},{"s":"100","x":-0.5,"y":0.5},{"s":"100","x":-0.4,"y":0.497},{"s":"100","x":-0.3,"y":0.496},{"s":"100","x":-0.2,"y":0.499},{"s":"100","x":-0.15,"y":0.505},{"s":"100","x":-0.1,"y":0.528},{"s":"100","x":-0.07,"y":0.565},{"s":"100","x":-0.05,"y":0.63},{"s":"100","x":-0.035,"y":0.72},{"s":"100","x":-0.02,"y":0.83},{"s":"100","x":-0.01,"y":0.92},{"s":"100","x":0,"y":1},{"s":"100","x":0.01,"y":0.92},{"s":"100","x":0.02,"y":0.83},{"s":"100","x":0.035,"y":0.72},{"s":"100","x":0.05,"y":0.63},{"s":"100","x":0.07,"y":0.565},{"s":"100","x":0.1,"y":0.528},{"s":"100","x":0.15,"y":0.505},{"s":"100","x":0.2,"y":0.499},{"s":"100","x":0.3,"y":0.496},{"s":"100","x":0.4,"y":0.497},{"s":"100","x":0.5,"y":0.5},{"s":"100","x":0.6,"y":0.507},{"s":"100","x":0.7,"y":0.517},{"s":"100","x":0.8,"y":0.531},{"s":"100","x":0.9,"y":0.546},{"s":"100","x":1,"y":0.562},{"s":"100","x":1.0005,"y":0},{"s":"100","x":1.3,"y":0}
]
},
"spacing":5,
"resolve":{"scale":{"color":"independent"},"legend":{"color":"independent"}},
"vconcat":[
{"hconcat":[
{"width":491,"height":247,
 "layer":[
  {"data":{"name":"dashL"},"mark":{"type":"line","color":"black","strokeWidth":3,"strokeDash":[4.5,3.5],"clip":true},
   "encoding":{"x":{"field":"x","type":"quantitative","scale":{"domain":[-50,50],"nice":false,"zero":false},"axis":{"orient":"bottom","labels":false,"ticks":false,"domain":false,"title":null}},
               "y":{"field":"y","type":"quantitative","scale":{"domain":[0,1.3],"nice":false,"zero":false},"axis":{"orient":"left","values":[0,0.2,0.4,0.6,0.8,1,1.2],"format":".1f","ticks":false,"domain":false,"labelPadding":7,"title":"n(x)/n₀","titleFontStyle":"italic","titlePadding":12}}}},
  {"data":{"name":"tl"},"mark":{"type":"line","strokeWidth":3,"interpolate":"monotone","clip":true},
   "encoding":{"x":{"field":"x","type":"quantitative","scale":{"domain":[-50,50],"nice":false,"zero":false},"axis":{"orient":"bottom","values":[-40,-20,0,20,40],"labels":false,"domain":false,"tickSize":-6.5,"title":null}},
               "y":{"field":"y","type":"quantitative","scale":{"domain":[0,1.3],"nice":false,"zero":false},"axis":{"orient":"left","values":[0,0.2,0.4,0.6,0.8,1,1.2],"labels":false,"domain":false,"tickSize":-6.5,"title":null}},
               "color":{"field":"s","type":"nominal","scale":{"domain":["Local","Sym. double","Asym. double"],"range":["#000000","#5959ff","#aaaaff"]},"legend":{"title":null,"legendX":23}}}},
  {"data":{"name":"dashL"},"mark":{"type":"line","opacity":0},
   "encoding":{"x":{"field":"x","type":"quantitative","scale":{"domain":[-50,50],"nice":false,"zero":false},"axis":{"orient":"bottom","values":[-45,-35,-30,-25,-15,-10,-5,5,10,15,25,30,35,45],"labels":false,"domain":false,"tickSize":-3.7,"title":null}},
               "y":{"field":"y","type":"quantitative","scale":{"domain":[0,1.3],"nice":false,"zero":false},"axis":{"orient":"left","values":[0.05,0.1,0.15,0.25,0.3,0.35,0.45,0.5,0.55,0.65,0.7,0.75,0.85,0.9,0.95,1.05,1.1,1.15,1.25],"labels":false,"domain":false,"tickSize":-3.7,"title":null}}}},
  {"data":{"name":"dashL"},"mark":{"type":"line","opacity":0},
   "encoding":{"x":{"field":"x","type":"quantitative","scale":{"domain":[-50,50],"nice":false,"zero":false},"axis":{"orient":"top","values":[-40,-20,0,20,40],"labels":false,"domain":false,"tickSize":-6.5,"title":null}},
               "y":{"field":"y","type":"quantitative","scale":{"domain":[0,1.3],"nice":false,"zero":false},"axis":{"orient":"right","values":[0,0.2,0.4,0.6,0.8,1,1.2],"labels":false,"domain":false,"tickSize":-6.5,"title":null}}}},
  {"data":{"name":"dashL"},"mark":{"type":"line","opacity":0},
   "encoding":{"x":{"field":"x","type":"quantitative","scale":{"domain":[-50,50],"nice":false,"zero":false},"axis":{"orient":"top","values":[-45,-35,-30,-25,-15,-10,-5,5,10,15,25,30,35,45],"labels":false,"domain":false,"tickSize":-3.7,"title":null}},
               "y":{"field":"y","type":"quantitative","scale":{"domain":[0,1.3],"nice":false,"zero":false},"axis":{"orient":"right","values":[0.05,0.1,0.15,0.25,0.3,0.35,0.45,0.5,0.55,0.65,0.7,0.75,0.85,0.9,0.95,1.05,1.1,1.15,1.25],"labels":false,"domain":false,"tickSize":-3.7,"title":null}}}}
 ],
 "resolve":{"axis":{"x":"independent","y":"independent"}}},
{"width":500,"height":247,
 "layer":[
  {"data":{"name":"dashR"},"mark":{"type":"line","color":"black","strokeWidth":3,"strokeDash":[4.5,3.5],"clip":true},
   "encoding":{"x":{"field":"x","type":"quantitative","scale":{"domain":[-1.3,1.3],"nice":false,"zero":false},"axis":{"orient":"bottom","labels":false,"ticks":false,"domain":false,"title":null}},
               "y":{"field":"y","type":"quantitative","scale":{"domain":[0,1.3],"nice":false,"zero":false},"axis":{"orient":"left","values":[0,0.2,0.4,0.6,0.8,1,1.2],"format":".1f","ticks":false,"domain":false,"labelPadding":7,"title":"n(k)","titleFontStyle":"italic","titlePadding":12}}}},
  {"data":{"name":"tr"},"mark":{"type":"line","strokeWidth":3,"interpolate":"monotone","clip":true},
   "encoding":{"x":{"field":"x","type":"quantitative","scale":{"domain":[-1.3,1.3],"nice":false,"zero":false},"axis":{"orient":"bottom","values":[-1,-0.5,0,0.5,1],"labels":false,"domain":false,"tickSize":-6.5,"title":null}},
               "y":{"field":"y","type":"quantitative","scale":{"domain":[0,1.3],"nice":false,"zero":false},"axis":{"orient":"left","values":[0,0.2,0.4,0.6,0.8,1,1.2],"labels":false,"domain":false,"tickSize":-6.5,"title":null}},
               "color":{"field":"s","type":"nominal","scale":{"domain":["Local","Sym. double","Asym. double"],"range":["#000000","#5959ff","#aaaaff"]},"legend":{"title":null,"legendX":23}}}},
  {"data":{"name":"dashR"},"mark":{"type":"line","opacity":0},
   "encoding":{"x":{"field":"x","type":"quantitative","scale":{"domain":[-1.3,1.3],"nice":false,"zero":false},"axis":{"orient":"bottom","values":[-1.2,-1.1,-0.9,-0.8,-0.7,-0.6,-0.4,-0.3,-0.2,-0.1,0.1,0.2,0.3,0.4,0.6,0.7,0.8,0.9,1.1,1.2],"labels":false,"domain":false,"tickSize":-3.7,"title":null}},
               "y":{"field":"y","type":"quantitative","scale":{"domain":[0,1.3],"nice":false,"zero":false},"axis":{"orient":"left","values":[0.05,0.1,0.15,0.25,0.3,0.35,0.45,0.5,0.55,0.65,0.7,0.75,0.85,0.9,0.95,1.05,1.1,1.15,1.25],"labels":false,"domain":false,"tickSize":-3.7,"title":null}}}},
  {"data":{"name":"dashR"},"mark":{"type":"line","opacity":0},
   "encoding":{"x":{"field":"x","type":"quantitative","scale":{"domain":[-1.3,1.3],"nice":false,"zero":false},"axis":{"orient":"top","values":[-1,-0.5,0,0.5,1],"labels":false,"domain":false,"tickSize":-6.5,"title":null}},
               "y":{"field":"y","type":"quantitative","scale":{"domain":[0,1.3],"nice":false,"zero":false},"axis":{"orient":"right","values":[0,0.2,0.4,0.6,0.8,1,1.2],"labels":false,"domain":false,"tickSize":-6.5,"title":null}}}},
  {"data":{"name":"dashR"},"mark":{"type":"line","opacity":0},
   "encoding":{"x":{"field":"x","type":"quantitative","scale":{"domain":[-1.3,1.3],"nice":false,"zero":false},"axis":{"orient":"top","values":[-1.2,-1.1,-0.9,-0.8,-0.7,-0.6,-0.4,-0.3,-0.2,-0.1,0.1,0.2,0.3,0.4,0.6,0.7,0.8,0.9,1.1,1.2],"labels":false,"domain":false,"tickSize":-3.7,"title":null}},
               "y":{"field":"y","type":"quantitative","scale":{"domain":[0,1.3],"nice":false,"zero":false},"axis":{"orient":"right","values":[0.05,0.1,0.15,0.25,0.3,0.35,0.45,0.5,0.55,0.65,0.7,0.75,0.85,0.9,0.95,1.05,1.1,1.15,1.25],"labels":false,"domain":false,"tickSize":-3.7,"title":null}}}}
 ],
 "resolve":{"axis":{"x":"independent","y":"independent"}}}
],"spacing":58,"resolve":{"scale":{"color":"independent"},"legend":{"color":"independent"}}},
{"hconcat":[
{"width":491,"height":247,
 "layer":[
  {"data":{"name":"dashL"},"mark":{"type":"line","color":"black","strokeWidth":3,"strokeDash":[4.5,3.5],"clip":true},
   "encoding":{"x":{"field":"x","type":"quantitative","scale":{"domain":[-50,50],"nice":false,"zero":false},"axis":{"orient":"bottom","values":[-40,-20,0,20,40],"format":"d","ticks":false,"domain":false,"labelPadding":8,"title":"xkꜰ","titleFontStyle":"italic","titlePadding":18}},
               "y":{"field":"y","type":"quantitative","scale":{"domain":[0,1.3],"nice":false,"zero":false},"axis":{"orient":"left","values":[0,0.2,0.4,0.6,0.8,1,1.2],"format":".1f","ticks":false,"domain":false,"labelPadding":7,"title":"n(x)/n₀","titleFontStyle":"italic","titlePadding":12}}}},
  {"data":{"name":"bl"},"mark":{"type":"line","strokeWidth":3,"interpolate":"monotone","clip":true},
   "encoding":{"x":{"field":"x","type":"quantitative","scale":{"domain":[-50,50],"nice":false,"zero":false},"axis":{"orient":"bottom","values":[-40,-20,0,20,40],"labels":false,"domain":false,"tickSize":-6.5,"title":null}},
               "y":{"field":"y","type":"quantitative","scale":{"domain":[0,1.3],"nice":false,"zero":false},"axis":{"orient":"left","values":[0,0.2,0.4,0.6,0.8,1,1.2],"labels":false,"domain":false,"tickSize":-6.5,"title":null}},
               "color":{"field":"s","type":"nominal","scale":{"domain":["0","1","10","100"],"range":["#000000","#6464ff","#9999ff","#ccccff"]},"legend":{"title":"Box, smγ","legendX":71}}}},
  {"data":{"name":"dashL"},"mark":{"type":"line","opacity":0},
   "encoding":{"x":{"field":"x","type":"quantitative","scale":{"domain":[-50,50],"nice":false,"zero":false},"axis":{"orient":"bottom","values":[-45,-35,-30,-25,-15,-10,-5,5,10,15,25,30,35,45],"labels":false,"domain":false,"tickSize":-3.7,"title":null}},
               "y":{"field":"y","type":"quantitative","scale":{"domain":[0,1.3],"nice":false,"zero":false},"axis":{"orient":"left","values":[0.05,0.1,0.15,0.25,0.3,0.35,0.45,0.5,0.55,0.65,0.7,0.75,0.85,0.9,0.95,1.05,1.1,1.15,1.25],"labels":false,"domain":false,"tickSize":-3.7,"title":null}}}},
  {"data":{"name":"dashL"},"mark":{"type":"line","opacity":0},
   "encoding":{"x":{"field":"x","type":"quantitative","scale":{"domain":[-50,50],"nice":false,"zero":false},"axis":{"orient":"top","values":[-40,-20,0,20,40],"labels":false,"domain":false,"tickSize":-6.5,"title":null}},
               "y":{"field":"y","type":"quantitative","scale":{"domain":[0,1.3],"nice":false,"zero":false},"axis":{"orient":"right","values":[0,0.2,0.4,0.6,0.8,1,1.2],"labels":false,"domain":false,"tickSize":-6.5,"title":null}}}},
  {"data":{"name":"dashL"},"mark":{"type":"line","opacity":0},
   "encoding":{"x":{"field":"x","type":"quantitative","scale":{"domain":[-50,50],"nice":false,"zero":false},"axis":{"orient":"top","values":[-45,-35,-30,-25,-15,-10,-5,5,10,15,25,30,35,45],"labels":false,"domain":false,"tickSize":-3.7,"title":null}},
               "y":{"field":"y","type":"quantitative","scale":{"domain":[0,1.3],"nice":false,"zero":false},"axis":{"orient":"right","values":[0.05,0.1,0.15,0.25,0.3,0.35,0.45,0.5,0.55,0.65,0.7,0.75,0.85,0.9,0.95,1.05,1.1,1.15,1.25],"labels":false,"domain":false,"tickSize":-3.7,"title":null}}}}
 ],
 "resolve":{"axis":{"x":"independent","y":"independent"}}},
{"width":500,"height":247,
 "layer":[
  {"data":{"name":"dashR"},"mark":{"type":"line","color":"black","strokeWidth":3,"strokeDash":[4.5,3.5],"clip":true},
   "encoding":{"x":{"field":"x","type":"quantitative","scale":{"domain":[-1.3,1.3],"nice":false,"zero":false},"axis":{"orient":"bottom","values":[-1,-0.5,0,0.5,1],"format":".1f","ticks":false,"domain":false,"labelPadding":8,"title":"k/kꜰ","titleFontStyle":"italic","titlePadding":18}},
               "y":{"field":"y","type":"quantitative","scale":{"domain":[0,1.3],"nice":false,"zero":false},"axis":{"orient":"left","values":[0,0.2,0.4,0.6,0.8,1,1.2],"format":".1f","ticks":false,"domain":false,"labelPadding":7,"title":"n(k)","titleFontStyle":"italic","titlePadding":12}}}},
  {"data":{"name":"br"},"mark":{"type":"line","strokeWidth":3,"interpolate":"monotone","clip":true},
   "encoding":{"x":{"field":"x","type":"quantitative","scale":{"domain":[-1.3,1.3],"nice":false,"zero":false},"axis":{"orient":"bottom","values":[-1,-0.5,0,0.5,1],"labels":false,"domain":false,"tickSize":-6.5,"title":null}},
               "y":{"field":"y","type":"quantitative","scale":{"domain":[0,1.3],"nice":false,"zero":false},"axis":{"orient":"left","values":[0,0.2,0.4,0.6,0.8,1,1.2],"labels":false,"domain":false,"tickSize":-6.5,"title":null}},
               "color":{"field":"s","type":"nominal","scale":{"domain":["0","1","10","100"],"range":["#000000","#6464ff","#9999ff","#ccccff"]},"legend":{"title":"Box, smγ","legendX":74}}}},
  {"data":{"name":"dashR"},"mark":{"type":"line","opacity":0},
   "encoding":{"x":{"field":"x","type":"quantitative","scale":{"domain":[-1.3,1.3],"nice":false,"zero":false},"axis":{"orient":"bottom","values":[-1.2,-1.1,-0.9,-0.8,-0.7,-0.6,-0.4,-0.3,-0.2,-0.1,0.1,0.2,0.3,0.4,0.6,0.7,0.8,0.9,1.1,1.2],"labels":false,"domain":false,"tickSize":-3.7,"title":null}},
               "y":{"field":"y","type":"quantitative","scale":{"domain":[0,1.3],"nice":false,"zero":false},"axis":{"orient":"left","values":[0.05,0.1,0.15,0.25,0.3,0.35,0.45,0.5,0.55,0.65,0.7,0.75,0.85,0.9,0.95,1.05,1.1,1.15,1.25],"labels":false,"domain":false,"tickSize":-3.7,"title":null}}}},
  {"data":{"name":"dashR"},"mark":{"type":"line","opacity":0},
   "encoding":{"x":{"field":"x","type":"quantitative","scale":{"domain":[-1.3,1.3],"nice":false,"zero":false},"axis":{"orient":"top","values":[-1,-0.5,0,0.5,1],"labels":false,"domain":false,"tickSize":-6.5,"title":null}},
               "y":{"field":"y","type":"quantitative","scale":{"domain":[0,1.3],"nice":false,"zero":false},"axis":{"orient":"right","values":[0,0.2,0.4,0.6,0.8,1,1.2],"labels":false,"domain":false,"tickSize":-6.5,"title":null}}}},
  {"data":{"name":"dashR"},"mark":{"type":"line","opacity":0},
   "encoding":{"x":{"field":"x","type":"quantitative","scale":{"domain":[-1.3,1.3],"nice":false,"zero":false},"axis":{"orient":"top","values":[-1.2,-1.1,-0.9,-0.8,-0.7,-0.6,-0.4,-0.3,-0.2,-0.1,0.1,0.2,0.3,0.4,0.6,0.7,0.8,0.9,1.1,1.2],"labels":false,"domain":false,"tickSize":-3.7,"title":null}},
               "y":{"field":"y","type":"quantitative","scale":{"domain":[0,1.3],"nice":false,"zero":false},"axis":{"orient":"right","values":[0.05,0.1,0.15,0.25,0.3,0.35,0.45,0.5,0.55,0.65,0.7,0.75,0.85,0.9,0.95,1.05,1.1,1.15,1.25],"labels":false,"domain":false,"tickSize":-3.7,"title":null}}}}
 ],
 "resolve":{"axis":{"x":"independent","y":"independent"}}}
],"spacing":58,"resolve":{"scale":{"color":"independent"},"legend":{"color":"independent"}}}
]
}
